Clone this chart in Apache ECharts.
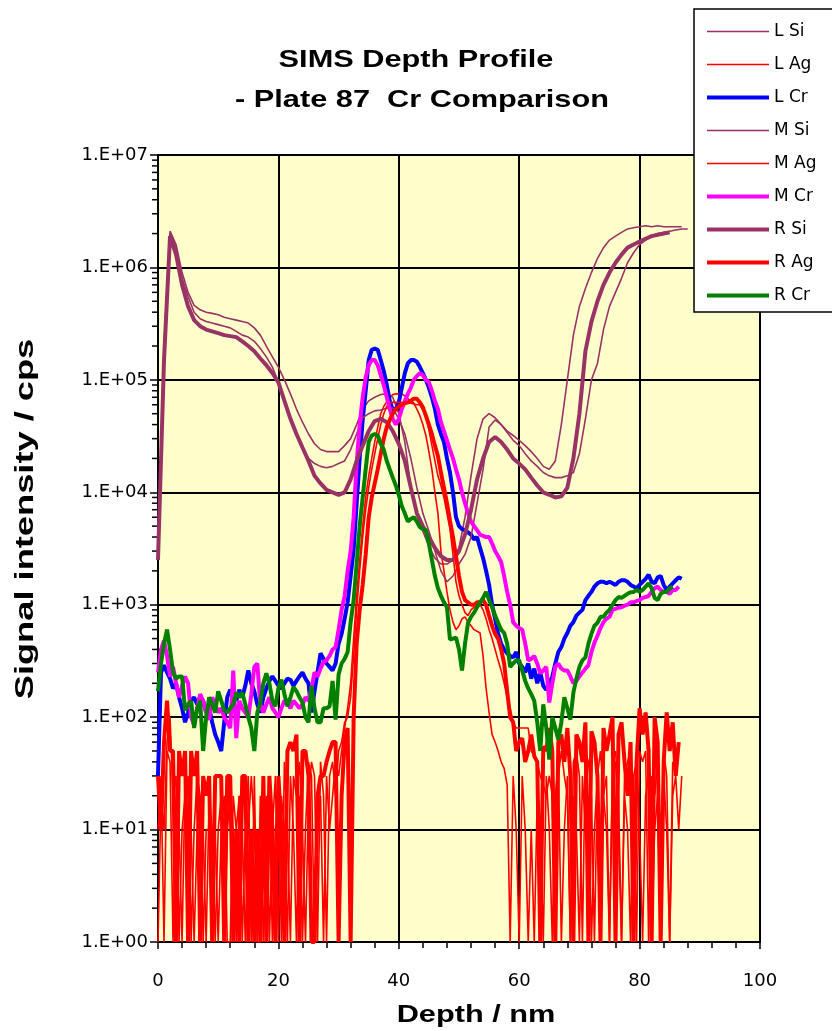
<!DOCTYPE html>
<html>
<head>
<meta charset="utf-8">
<title>SIMS Depth Profile - Plate 87 Cr Comparison</title>
<script src="https://cdn.jsdelivr.net/npm/echarts@6/dist/echarts.min.js"></script>
<style>
  html, body { margin: 0; padding: 0; background: #ffffff; }
  #chart { width: 832px; height: 1031px; }
</style>
</head>
<body>
<div id="chart"></div>
<script>
// ---- sampling of the depth axis -------------------------------------------
const DEPTH_STEP_SI = 1;     // nm between Si readings
const DEPTH_STEP = 0.5;      // nm between Ag / Cr readings
const COUNT_FLOOR = 1;       // zero counts are laid on the bottom of the log axis

// ---- axis ticks -------------------------------------------------------------
const X_TICKS = [0, 20, 40, 60, 80, 100];
const Y_TICK_LABELS = ['1.E+00', '1.E+01', '1.E+02', '1.E+03', '1.E+04', '1.E+05', '1.E+06', '1.E+07'];

// ---- Si profiles (cps), one value per nm from 0 nm --------------------------
const L_SI = [
  3000, 200000, 2100000, 1600000, 900000, 600000, 460000, 420000, 400000, 390000,
  380000, 360000, 350000, 340000, 330000, 320000, 290000, 250000, 200000, 160000,
  130000, 100000, 75000, 55000, 42000, 33000, 27000, 24000, 23000, 23000,
  23000, 26000, 30000, 40000, 55000, 65000, 70000, 74000, 75000, 70000,
  50000, 28000, 11000, 6500, 4500, 3300, 2600, 2300, 2300, 2500,
  3200, 6000, 14000, 30000, 45000, 50000, 46000, 40000, 35000, 32000,
  29000, 26000, 23000, 20000, 17000, 16000, 19000, 40000, 100000, 250000,
  450000, 650000, 900000, 1200000, 1500000, 1750000, 1900000, 2050000, 2200000, 2250000,
  2300000, 2350000, 2300000, 2350000, 2300000, 2300000, 2300000, 2300000
];
const M_SI = [
  3000, 200000, 2000000, 1500000, 800000, 550000, 400000, 350000, 330000, 320000,
  310000, 300000, 290000, 270000, 250000, 240000, 220000, 190000, 160000, 130000,
  95000, 65000, 44000, 32000, 25000, 20000, 18000, 17000, 16500, 17000,
  18000, 19000, 24000, 33000, 46000, 50000, 53000, 54000, 56000, 56000,
  45000, 33000, 20000, 11000, 6500, 4500, 3000, 2000, 1600, 1800,
  2300, 2800, 4000, 8000, 16000, 38000, 44000, 40000, 34000, 29000,
  26000, 22000, 19000, 17000, 15000, 14000, 13500, 13500, 14000, 15000,
  22000, 45000, 100000, 140000, 280000, 450000, 600000, 800000, 1100000, 1350000,
  1600000, 1750000, 1900000, 2000000, 2050000, 2100000, 2150000, 2200000, 2200000
];
const R_SI = [
  2500, 150000, 1900000, 1300000, 700000, 450000, 340000, 300000, 280000, 270000,
  260000, 250000, 245000, 240000, 220000, 200000, 180000, 155000, 135000, 115000,
  95000, 65000, 45000, 33000, 25000, 19000, 14000, 12000, 10500, 10000,
  9500, 10000, 13000, 19000, 26000, 35000, 43000, 45000, 42000, 35000,
  27000, 19000, 11000, 6500, 5000, 4000, 3200, 2700, 2500, 2500,
  3000, 4200, 7000, 13000, 20000, 28000, 31000, 28000, 24000, 20000,
  18000, 16000, 13500, 11500, 10000, 9500, 9000, 9200, 11000, 20000,
  50000, 180000, 330000, 500000, 700000, 900000, 1100000, 1300000, 1500000, 1600000,
  1700000, 1800000, 1900000, 1950000, 2000000, 2050000
];

// ---- Cr profiles (cps), one value per 0.5 nm from 0 nm ----------------------
const L_CR = [
  30, 250, 290, 250, 220, 180, 200, 150, 120, 90,
  110, 140, 150, 130, 150, 140, 110, 120, 90, 70,
  60, 50, 90, 150, 175, 160, 140, 175, 150, 190,
  260, 200, 170, 130, 110, 150, 180, 210, 230, 210,
  190, 180, 200, 220, 215, 190, 210, 230, 250, 220,
  200, 110, 170, 250, 370, 330, 300, 280, 260, 300,
  450, 550, 750, 1050, 1800, 3100, 8000, 20000, 44000, 80000,
  150000, 185000, 190000, 185000, 150000, 120000, 90000, 65000, 54000, 55000,
  63000, 85000, 115000, 140000, 150000, 150000, 145000, 130000, 115000, 100000,
  85000, 70000, 55000, 40000, 33000, 28000, 20000, 15000, 10000, 6000,
  5000, 4700, 4600, 4400, 4200, 3800, 4000, 3200, 2600, 2000,
  1500, 1000, 750, 550, 450, 400, 370, 350, 340, 380,
  300, 280, 250, 300, 220, 270, 200, 250, 190, 175,
  200, 230, 300, 380, 420, 500, 560, 650, 700, 800,
  850, 900, 1100, 1200, 1300, 1450, 1550, 1600, 1600, 1550,
  1600, 1550, 1500, 1600, 1650, 1650, 1600, 1500, 1450, 1400,
  1500, 1600, 1700, 1850, 1600, 1550, 1750, 1800, 1500, 1350,
  1450, 1550, 1650, 1750, 1700
];
const M_CR = [
  250, 400, 480, 350, 230, 280, 200, 150, 190, 230,
  200, 100, 85, 120, 160, 140, 110, 95, 150, 130,
  110, 120, 100, 90, 80, 260, 65, 140, 120, 110,
  100, 160, 280, 300, 130, 110, 130, 150, 120, 110,
  100, 120, 140, 135, 120, 140, 130, 120, 130, 150,
  140, 180, 250, 230, 270, 310, 320, 350, 400, 420,
  600, 900, 1200, 2000, 3000, 6000, 18000, 40000, 70000, 105000,
  135000, 150000, 150000, 135000, 110000, 90000, 70000, 55000, 45000, 40000,
  45000, 55000, 65000, 75000, 85000, 100000, 108000, 115000, 110000, 100000,
  95000, 80000, 65000, 55000, 42000, 35000, 29000, 24000, 20000, 16000,
  13000, 10000, 8000, 6500, 5500, 5000, 4600, 4200, 4100, 4000,
  4000, 3500, 3000, 2700, 2400, 1800, 1300, 1000, 700, 650,
  620, 600, 450, 320, 330, 350, 300, 245, 260, 280,
  135, 200, 280, 300, 270, 260, 260, 230, 200, 210,
  230, 250, 270, 290, 380, 460, 530, 620, 700, 750,
  780, 900, 920, 940, 950, 980, 1000, 1050, 1050, 1080,
  1100, 1150, 1170, 1200, 1300, 1400, 1450, 1350, 1300, 1300,
  1250, 1350, 1350, 1450
];
const R_CR = [
  170, 300, 450, 600, 400, 250, 220, 230, 230, 115,
  130, 140, 80, 120, 140, 50, 100, 150, 130, 110,
  170, 140, 115, 110, 120, 130, 165, 150, 165, 130,
  100, 80, 50, 110, 135, 200, 245, 200, 140, 125,
  180, 215, 160, 125, 150, 185, 170, 150, 135, 100,
  90, 190, 120, 90, 90, 120, 120, 125, 210, 95,
  240, 300, 330, 380, 700, 1100, 2300, 5000, 9000, 16000,
  28000, 32000, 33000, 32000, 27000, 24000, 19000, 16000, 13500, 11500,
  9500, 7500, 6500, 5500, 5800, 6000, 5500, 4900, 4700, 4600,
  3500, 2500, 1800, 1400, 1200, 1050, 950, 490, 500, 510,
  400, 260, 450, 690, 780, 850, 950, 1050, 1150, 1300,
  1100, 950, 800, 690, 600, 560, 450, 280, 300, 320,
  320, 260, 210, 180, 160, 140, 90, 50, 130, 80,
  42, 100, 80, 63, 90, 150, 120, 95, 165, 220,
  280, 320, 340, 450, 550, 650, 690, 780, 780, 850,
  900, 1000, 1100, 1170, 1150, 1200, 1250, 1290, 1300, 1350,
  1300, 1350, 1450, 1550, 1400, 1150, 1100, 1250, 1300, 1300,
  1400, 1450
];

// ---- Ag profiles (cps), one value per 0.5 nm from 0 nm ----------------------
const L_AG = [
  0, 20, 10, 60, 100, 20, 30, 0, 10, 20,
  30, 0, 10, 30, 20, 0, 10, 10, 0, 10,
  0, 10, 20, 0, 0, 20, 10, 20, 0, 10,
  30, 0, 30, 0, 0, 10, 20, 0, 10, 30,
  0, 20, 10, 0, 30, 10, 0, 20, 0, 10,
  40, 30, 0, 10, 20, 0, 30, 10, 20, 40,
  30, 50, 80, 120, 200, 500, 1200, 2500, 5000, 9000,
  14000, 20000, 28000, 38000, 50000, 58000, 64000, 70000, 74000, 75000,
  75000, 75000, 72000, 68000, 65000, 62000, 55000, 48000, 40000, 32000,
  23000, 16000, 10000, 6500, 3000, 2000, 1300, 900, 700, 600,
  650, 750, 780, 700, 650, 600, 580, 560, 350, 180,
  110, 70, 60, 50, 40, 35, 25, 0, 30, 10,
  0, 30, 10, 0, 10, 0, 20, 10, 0, 30,
  10, 0, 20, 40, 0, 10, 30, 0, 20, 10,
  0, 30, 10, 20, 0, 10, 30, 0, 20, 10,
  0, 30, 40, 10, 0, 20, 10, 0, 30, 40,
  10, 0, 20, 30, 0, 10, 20, 0, 30, 10,
  0, 20, 30, 10, 30
];
const M_AG = [
  10, 30, 0, 50, 40, 0, 20, 10, 0, 30,
  20, 10, 0, 10, 20, 10, 0, 20, 10, 0,
  10, 20, 0, 10, 20, 10, 0, 20, 10, 0,
  10, 30, 10, 0, 20, 0, 10, 20, 0, 10,
  20, 0, 40, 10, 0, 30, 20, 40, 10, 0,
  20, 40, 30, 0, 40, 20, 0, 30, 40, 20,
  50, 60, 90, 100, 150, 350, 900, 2000, 4000, 7000,
  11000, 16000, 22000, 30000, 40000, 50000, 58000, 63000, 63000, 63000,
  63000, 63000, 63000, 63000, 62000, 61000, 60000, 60000, 54000, 47000,
  36000, 26000, 19000, 14000, 11500, 9000, 6500, 4700, 2800, 1600,
  1200, 1000, 850, 800, 900, 950, 1000, 1000, 900, 750,
  600, 500, 400, 320, 260, 200, 150, 120, 90, 80,
  80, 80, 80, 80, 50, 45, 40, 30, 25, 20,
  30, 20, 0, 30, 50, 30, 20, 0, 40, 50,
  30, 0, 50, 40, 20, 0, 30, 50, 20, 30,
  0, 40, 50, 20, 0, 30, 40, 50, 20, 0,
  50, 40, 50, 0, 30, 20, 40, 0, 50, 30,
  0, 40, 30
];
const R_AG = [
  30, 10, 60, 140, 50, 50, 0, 50, 30, 50,
  0, 50, 30, 50, 0, 30, 20, 30, 0, 30,
  30, 30, 0, 30, 30, 0, 10, 0, 30, 30,
  0, 10, 0, 10, 0, 30, 0, 30, 10, 0,
  30, 10, 0, 50, 60, 50, 70, 0, 50, 50,
  30, 0, 0, 20, 30, 30, 40, 50, 60, 60,
  0, 20, 60, 80, 0, 100, 450, 900, 1500, 2800,
  6000, 9000, 12000, 16000, 22000, 30000, 38000, 44000, 50000, 55000,
  58000, 60000, 62000, 63000, 65000, 68000, 68000, 63000, 57000, 48000,
  40000, 33000, 26000, 21000, 15000, 11000, 8000, 5600, 4000, 2700,
  1800, 1300, 1100, 1050, 1000, 1000, 1050, 1050, 1100, 1000,
  800, 650, 550, 500, 400, 300, 170, 100, 90, 50,
  60, 65, 40, 50, 70, 45, 40, 0, 55, 50,
  80, 50, 0, 60, 70, 40, 80, 30, 0, 70,
  60, 40, 90, 0, 75, 60, 30, 0, 80, 50,
  70, 100, 0, 70, 90, 40, 20, 60, 0, 40,
  120, 70, 110, 50, 0, 100, 60, 0, 40, 110,
  50, 90, 30, 60
];

// ---- series list in drawing order (later ones sit on top) ------------------
const SI_COLOR = '#993366';
const AG_COLOR = '#FF0000';
const SERIES_DEFS = [
  { name: 'L Si', values: L_SI, step: DEPTH_STEP_SI, color: SI_COLOR, width: 1.6 },
  { name: 'L Ag', values: L_AG, step: DEPTH_STEP, color: AG_COLOR, width: 1.6 },
  { name: 'L Cr', values: L_CR, step: DEPTH_STEP, color: '#0000FF', width: 4 },
  { name: 'M Si', values: M_SI, step: DEPTH_STEP_SI, color: SI_COLOR, width: 1.6 },
  { name: 'M Ag', values: M_AG, step: DEPTH_STEP, color: AG_COLOR, width: 1.6 },
  { name: 'M Cr', values: M_CR, step: DEPTH_STEP, color: '#FF00FF', width: 4 },
  { name: 'R Si', values: R_SI, step: DEPTH_STEP_SI, color: SI_COLOR, width: 4 },
  { name: 'R Ag', values: R_AG, step: DEPTH_STEP, color: AG_COLOR, width: 4 },
  { name: 'R Cr', values: R_CR, step: DEPTH_STEP, color: '#008000', width: 4 }
];

function toPoints(values, step) {
  return values.map((v, i) => [Math.round(i * step * 100) / 100, v > 0 ? v : COUNT_FLOOR]);
}

const BASE_FONT = '"Liberation Sans", Arial, sans-serif';

const chart = echarts.init(document.getElementById('chart'), null, { renderer: 'canvas' });

const option = {
  animation: false,
  backgroundColor: '#ffffff',
  grid: {
    left: 158, top: 155, right: 72, bottom: 89,
    show: true, backgroundColor: '#FFFFCC', borderWidth: 0,
    containLabel: false
  },
  xAxis: {
    type: 'value', min: X_TICKS[0], max: X_TICKS[X_TICKS.length - 1], interval: X_TICKS[1] - X_TICKS[0],
    axisLine: { show: true, onZero: false, lineStyle: { color: '#000', width: 2 } },
    axisTick: { show: true, inside: false, length: 7, lineStyle: { color: '#000', width: 1.5 } },
    minorTick: { show: true, splitNumber: 5, length: 6, lineStyle: { color: '#000', width: 1.5 } },
    splitLine: { show: true, lineStyle: { color: '#000', width: 2 } },
    axisLabel: { color: '#000', fontSize: 18, fontFamily: 'DejaVu Sans', margin: 30 }
  },
  yAxis: {
    type: 'log', logBase: 10, min: 1, max: 1e7, splitNumber: 7,
    axisLine: { show: true, onZero: false, lineStyle: { color: '#000', width: 2 } },
    axisTick: { show: true, inside: false, length: 8, lineStyle: { color: '#000', width: 1.5 } },
    splitLine: { show: true, lineStyle: { color: '#000', width: 2 } },
    axisLabel: {
      color: '#000', fontSize: 18, fontFamily: 'DejaVu Sans', margin: 10,
      formatter: v => Y_TICK_LABELS[Math.round(Math.log10(v))]
    }
  },
  legend: {
    orient: 'vertical', left: 694, top: 9,
    itemWidth: 62, itemHeight: 14, itemGap: 16,
    padding: [14, 60, 8, 11],
    backgroundColor: '#ffffff', borderColor: '#000', borderWidth: 1.5,
    itemStyle: { opacity: 0 },
    textStyle: { color: '#000', fontSize: 17, fontFamily: 'DejaVu Sans' },
    data: SERIES_DEFS.map(d => ({ name: d.name, lineStyle: { color: d.color, width: d.width } }))
  },
  series: SERIES_DEFS.map(d => ({
    name: d.name,
    type: 'line',
    data: toPoints(d.values, d.step),
    showSymbol: false,
    symbol: 'none',
    clip: true,
    lineStyle: { color: d.color, width: d.width },
    itemStyle: { color: d.color },
    emphasis: { disabled: true }
  }))
};

chart.setOption(option);

// Decade sub-ticks (2..9) on the log axis and the wide-set chart texts.
const gx0 = chart.convertToPixel({ xAxisIndex: 0 }, X_TICKS[0]);
const extras = [];
for (let e = 0; e < Y_TICK_LABELS.length - 1; e++) {
  for (let m = 2; m <= 9; m++) {
    const py = chart.convertToPixel({ yAxisIndex: 0 }, m * Math.pow(10, e));
    extras.push({
      type: 'line', silent: true,
      shape: { x1: gx0 - 6, y1: py, x2: gx0, y2: py },
      style: { stroke: '#000', lineWidth: 1.5 }
    });
  }
}
function wideText(text, x, y, size, stretch, rotation) {
  return {
    type: 'text', x: x, y: y, rotation: rotation || 0, scaleX: stretch, silent: true,
    style: {
      text: text, fill: '#000', align: 'center', verticalAlign: 'middle',
      font: 'bold ' + size + 'px ' + BASE_FONT
    }
  };
}
extras.push(wideText('SIMS Depth Profile', 416, 60, 24, 1.28));
extras.push(wideText('- Plate 87  Cr Comparison', 422, 100, 24, 1.28));
extras.push(wideText('Depth / nm', 476, 1015, 24, 1.28));
extras.push(wideText('Signal intensity / cps', 26, 519, 25, 1.45, Math.PI / 2));

chart.setOption({ graphic: extras });
</script>
</body>
</html>
